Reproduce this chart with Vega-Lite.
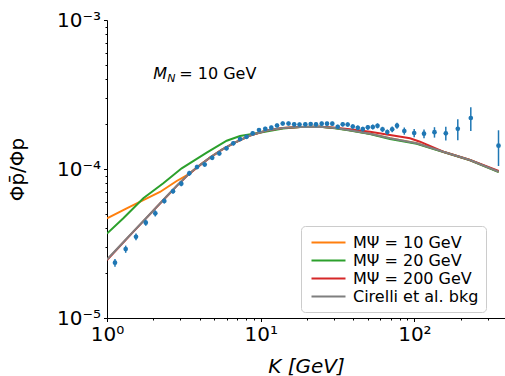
{
  "$schema": "https://vega.github.io/schema/vega-lite/v6.json",
  "autosize": "none",
  "width": 398,
  "height": 298,
  "padding": {"left": 107, "top": 20, "right": 0, "bottom": 58},
  "background": "white",
  "config": {
    "font": "DejaVu Sans",
    "view": {"stroke": null},
    "axis": {
      "grid": false,
      "domainColor": "black",
      "domainWidth": 1,
      "tickColor": "black",
      "tickWidth": 1,
      "labelColor": "black",
      "labelFont": "DejaVu Sans",
      "labelFontSize": 20,
      "labelOverlap": false,
      "labelFlush": false,
      "titleColor": "black",
      "titleFont": "DejaVu Sans",
      "titleFontSize": 20,
      "titleFontWeight": "normal"
    },
    "legend": {"labelFont": "DejaVu Sans", "labelColor": "black"}
  },
  "datasets": {
    "pts": [
      {"x": 1.127, "y": 2.35e-5, "err": 1.38e-6},
      {"x": 1.323, "y": 2.90e-5, "err": 1.61e-6},
      {"x": 1.544, "y": 3.51e-5, "err": 1.83e-6},
      {"x": 1.788, "y": 4.36e-5, "err": 2.07e-6},
      {"x": 2.062, "y": 5.04e-5, "err": 2.39e-6},
      {"x": 2.360, "y": 6.10e-5, "err": 2.40e-6},
      {"x": 2.688, "y": 7.09e-5, "err": 2.79e-6},
      {"x": 3.043, "y": 7.97e-5, "err": 3.14e-6},
      {"x": 3.432, "y": 9.36e-5, "err": 3.69e-6},
      {"x": 3.851, "y": 1.031e-4, "err": 3.6e-6},
      {"x": 4.322, "y": 1.072e-4, "err": 3.7e-6},
      {"x": 4.836, "y": 1.189e-4, "err": 4.0e-6},
      {"x": 5.379, "y": 1.271e-4, "err": 4.0e-6},
      {"x": 5.992, "y": 1.377e-4, "err": 4.3e-6},
      {"x": 6.633, "y": 1.487e-4, "err": 4.7e-6},
      {"x": 7.333, "y": 1.589e-4, "err": 5.0e-6},
      {"x": 8.085, "y": 1.644e-4, "err": 5.2e-6},
      {"x": 8.872, "y": 1.736e-4, "err": 5.4e-6},
      {"x": 9.75, "y": 1.827e-4, "err": 5.7e-6},
      {"x": 10.71, "y": 1.861e-4, "err": 5.8e-6},
      {"x": 11.72, "y": 1.893e-4, "err": 5.9e-6},
      {"x": 12.77, "y": 1.958e-4, "err": 6.1e-6},
      {"x": 13.91, "y": 2.020e-4, "err": 6.3e-6},
      {"x": 15.17, "y": 2.020e-4, "err": 6.3e-6},
      {"x": 16.52, "y": 1.995e-4, "err": 6.3e-6},
      {"x": 17.89, "y": 1.989e-4, "err": 6.2e-6},
      {"x": 19.51, "y": 1.995e-4, "err": 6.3e-6},
      {"x": 21.15, "y": 2.004e-4, "err": 6.3e-6},
      {"x": 22.90, "y": 1.995e-4, "err": 6.3e-6},
      {"x": 24.94, "y": 2.014e-4, "err": 6.3e-6},
      {"x": 27.01, "y": 2.014e-4, "err": 6.3e-6},
      {"x": 29.23, "y": 2.014e-4, "err": 6.3e-6},
      {"x": 31.70, "y": 1.922e-4, "err": 6.0e-6},
      {"x": 34.17, "y": 1.995e-4, "err": 6.3e-6},
      {"x": 36.81, "y": 1.989e-4, "err": 6.5e-6},
      {"x": 39.73, "y": 1.928e-4, "err": 6.5e-6},
      {"x": 42.83, "y": 1.890e-4, "err": 6.6e-6},
      {"x": 46.16, "y": 1.856e-4, "err": 6.8e-6},
      {"x": 49.76, "y": 1.905e-4, "err": 7.0e-6},
      {"x": 53.62, "y": 1.914e-4, "err": 7.2e-6},
      {"x": 57.54, "y": 1.950e-4, "err": 7.5e-6},
      {"x": 62.01, "y": 1.847e-4, "err": 7.3e-6},
      {"x": 66.64, "y": 1.771e-4, "err": 7.0e-6},
      {"x": 71.71, "y": 1.847e-4, "err": 8.0e-6},
      {"x": 77.06, "y": 1.954e-4, "err": 9.3e-6},
      {"x": 85.97, "y": 1.799e-4, "err": 1.0e-5},
      {"x": 99.7, "y": 1.744e-4, "err": 1.11e-5},
      {"x": 115.5, "y": 1.725e-4, "err": 1.19e-5},
      {"x": 135.1, "y": 1.766e-4, "err": 1.42e-5},
      {"x": 160.1, "y": 1.736e-4, "err": 1.83e-5},
      {"x": 191.6, "y": 1.861e-4, "err": 3.0e-5},
      {"x": 232.8, "y": 2.199e-4, "err": 4.0e-5},
      {"x": 352.6, "y": 1.433e-4, "err": 3.86e-5}
    ],
    "lines": [
      {"s": "MΨ = 10 GeV", "x": 1.0, "y": 4.667e-5},
      {"s": "MΨ = 10 GeV", "x": 1.343, "y": 5.446e-5},
      {"s": "MΨ = 10 GeV", "x": 1.723, "y": 6.191e-5},
      {"s": "MΨ = 10 GeV", "x": 2.212, "y": 7.01e-5},
      {"s": "MΨ = 10 GeV", "x": 2.841, "y": 8.31e-5},
      {"s": "MΨ = 10 GeV", "x": 3.432, "y": 9.28e-5},
      {"s": "MΨ = 10 GeV", "x": 4.028, "y": 1.064e-4},
      {"s": "MΨ = 10 GeV", "x": 4.679, "y": 1.194e-4},
      {"s": "MΨ = 10 GeV", "x": 5.600, "y": 1.351e-4},
      {"s": "MΨ = 10 GeV", "x": 6.633, "y": 1.487e-4},
      {"s": "MΨ = 10 GeV", "x": 8.518, "y": 1.678e-4},
      {"s": "MΨ = 10 GeV", "x": 10.94, "y": 1.813e-4},
      {"s": "MΨ = 10 GeV", "x": 13.97, "y": 1.884e-4},
      {"s": "MΨ = 10 GeV", "x": 18.02, "y": 1.914e-4},
      {"s": "MΨ = 10 GeV", "x": 24.31, "y": 1.919e-4},
      {"s": "MΨ = 10 GeV", "x": 30.43, "y": 1.884e-4},
      {"s": "MΨ = 10 GeV", "x": 38.11, "y": 1.819e-4},
      {"s": "MΨ = 10 GeV", "x": 51.42, "y": 1.722e-4},
      {"s": "MΨ = 10 GeV", "x": 69.38, "y": 1.607e-4},
      {"s": "MΨ = 10 GeV", "x": 103.5, "y": 1.487e-4},
      {"s": "MΨ = 10 GeV", "x": 154.2, "y": 1.306e-4},
      {"s": "MΨ = 10 GeV", "x": 230.0, "y": 1.149e-4},
      {"s": "MΨ = 10 GeV", "x": 353.6, "y": 9.59e-5},
      {"s": "MΨ = 20 GeV", "x": 1.0, "y": 3.69e-5},
      {"s": "MΨ = 20 GeV", "x": 1.277, "y": 4.667e-5},
      {"s": "MΨ = 20 GeV", "x": 1.723, "y": 6.357e-5},
      {"s": "MΨ = 20 GeV", "x": 2.324, "y": 8.02e-5},
      {"s": "MΨ = 20 GeV", "x": 3.062, "y": 1.011e-4},
      {"s": "MΨ = 20 GeV", "x": 4.454, "y": 1.286e-4},
      {"s": "MΨ = 20 GeV", "x": 6.010, "y": 1.548e-4},
      {"s": "MΨ = 20 GeV", "x": 7.333, "y": 1.665e-4},
      {"s": "MΨ = 20 GeV", "x": 9.419, "y": 1.736e-4},
      {"s": "MΨ = 20 GeV", "x": 13.97, "y": 1.870e-4},
      {"s": "MΨ = 20 GeV", "x": 18.02, "y": 1.914e-4},
      {"s": "MΨ = 20 GeV", "x": 24.31, "y": 1.919e-4},
      {"s": "MΨ = 20 GeV", "x": 30.43, "y": 1.876e-4},
      {"s": "MΨ = 20 GeV", "x": 38.11, "y": 1.813e-4},
      {"s": "MΨ = 20 GeV", "x": 51.42, "y": 1.717e-4},
      {"s": "MΨ = 20 GeV", "x": 69.38, "y": 1.589e-4},
      {"s": "MΨ = 20 GeV", "x": 103.5, "y": 1.476e-4},
      {"s": "MΨ = 20 GeV", "x": 154.2, "y": 1.300e-4},
      {"s": "MΨ = 20 GeV", "x": 230.0, "y": 1.144e-4},
      {"s": "MΨ = 20 GeV", "x": 353.6, "y": 9.55e-5},
      {"s": "MΨ = 200 GeV", "x": 1.0, "y": 2.45e-5},
      {"s": "MΨ = 200 GeV", "x": 1.215, "y": 3.04e-5},
      {"s": "MΨ = 200 GeV", "x": 1.476, "y": 3.77e-5},
      {"s": "MΨ = 200 GeV", "x": 1.794, "y": 4.66e-5},
      {"s": "MΨ = 200 GeV", "x": 2.084, "y": 5.49e-5},
      {"s": "MΨ = 200 GeV", "x": 2.446, "y": 6.54e-5},
      {"s": "MΨ = 200 GeV", "x": 2.897, "y": 7.85e-5},
      {"s": "MΨ = 200 GeV", "x": 3.432, "y": 9.31e-5},
      {"s": "MΨ = 200 GeV", "x": 4.028, "y": 1.062e-4},
      {"s": "MΨ = 200 GeV", "x": 4.679, "y": 1.192e-4},
      {"s": "MΨ = 200 GeV", "x": 5.600, "y": 1.349e-4},
      {"s": "MΨ = 200 GeV", "x": 6.633, "y": 1.485e-4},
      {"s": "MΨ = 200 GeV", "x": 8.518, "y": 1.676e-4},
      {"s": "MΨ = 200 GeV", "x": 10.94, "y": 1.811e-4},
      {"s": "MΨ = 200 GeV", "x": 13.97, "y": 1.884e-4},
      {"s": "MΨ = 200 GeV", "x": 18.02, "y": 1.914e-4},
      {"s": "MΨ = 200 GeV", "x": 24.31, "y": 1.919e-4},
      {"s": "MΨ = 200 GeV", "x": 30.43, "y": 1.895e-4},
      {"s": "MΨ = 200 GeV", "x": 38.11, "y": 1.847e-4},
      {"s": "MΨ = 200 GeV", "x": 51.42, "y": 1.779e-4},
      {"s": "MΨ = 200 GeV", "x": 69.38, "y": 1.691e-4},
      {"s": "MΨ = 200 GeV", "x": 93.62, "y": 1.607e-4},
      {"s": "MΨ = 200 GeV", "x": 108.7, "y": 1.525e-4},
      {"s": "MΨ = 200 GeV", "x": 154.2, "y": 1.306e-4},
      {"s": "MΨ = 200 GeV", "x": 230.0, "y": 1.149e-4},
      {"s": "MΨ = 200 GeV", "x": 353.6, "y": 9.69e-5},
      {"s": "Cirelli et al. bkg", "x": 1.0, "y": 2.47e-5},
      {"s": "Cirelli et al. bkg", "x": 1.215, "y": 3.055e-5},
      {"s": "Cirelli et al. bkg", "x": 1.476, "y": 3.784e-5},
      {"s": "Cirelli et al. bkg", "x": 1.794, "y": 4.675e-5},
      {"s": "Cirelli et al. bkg", "x": 2.084, "y": 5.506e-5},
      {"s": "Cirelli et al. bkg", "x": 2.446, "y": 6.558e-5},
      {"s": "Cirelli et al. bkg", "x": 2.897, "y": 7.87e-5},
      {"s": "Cirelli et al. bkg", "x": 3.432, "y": 9.33e-5},
      {"s": "Cirelli et al. bkg", "x": 4.028, "y": 1.064e-4},
      {"s": "Cirelli et al. bkg", "x": 4.679, "y": 1.194e-4},
      {"s": "Cirelli et al. bkg", "x": 5.600, "y": 1.351e-4},
      {"s": "Cirelli et al. bkg", "x": 6.633, "y": 1.487e-4},
      {"s": "Cirelli et al. bkg", "x": 8.518, "y": 1.678e-4},
      {"s": "Cirelli et al. bkg", "x": 10.94, "y": 1.813e-4},
      {"s": "Cirelli et al. bkg", "x": 13.97, "y": 1.884e-4},
      {"s": "Cirelli et al. bkg", "x": 18.02, "y": 1.914e-4},
      {"s": "Cirelli et al. bkg", "x": 24.31, "y": 1.919e-4},
      {"s": "Cirelli et al. bkg", "x": 30.43, "y": 1.884e-4},
      {"s": "Cirelli et al. bkg", "x": 38.11, "y": 1.819e-4},
      {"s": "Cirelli et al. bkg", "x": 51.42, "y": 1.722e-4},
      {"s": "Cirelli et al. bkg", "x": 69.38, "y": 1.607e-4},
      {"s": "Cirelli et al. bkg", "x": 103.5, "y": 1.487e-4},
      {"s": "Cirelli et al. bkg", "x": 154.2, "y": 1.306e-4},
      {"s": "Cirelli et al. bkg", "x": 230.0, "y": 1.149e-4},
      {"s": "Cirelli et al. bkg", "x": 353.6, "y": 9.59e-5}
    ]
  },
  "encoding": {
    "x": {
      "field": "x", "type": "quantitative",
      "scale": {"type": "log", "domain": [1, 388.6], "nice": false, "zero": false},
      "axis": {
        "title": "K [GeV]",
        "titleFontStyle": "italic",
        "titleY": 48,
        "titleBaseline": "middle",
        "values": [1, 2, 3, 4, 5, 6, 7, 8, 9, 10, 20, 30, 40, 50, 60, 70, 80, 90, 100, 200, 300],
        "labelExpr": "datum.value == 1 ? '10⁰' : datum.value == 10 ? '10¹' : datum.value == 100 ? '10²' : ''",
        "tickSize": {"condition": {"test": "indexof([1, 10, 100], datum.value) >= 0", "value": 3.5}, "value": 2},
        "labelPadding": 3
      }
    },
    "y": {
      "field": "y", "type": "quantitative",
      "scale": {"type": "log", "domain": [0.00001, 0.001], "nice": false, "zero": false},
      "axis": {
        "title": "Φp̄/Φp",
        "titleX": -90,
        "titleY": 149,
        "titleAngle": -90,
        "titleAlign": "center",
        "titleBaseline": "middle",
        "values": [0.00001, 0.00002, 0.00003, 0.00004, 0.00005, 0.00006, 0.00007, 0.00008, 0.00009, 0.0001, 0.0002, 0.0003, 0.0004, 0.0005, 0.0006, 0.0007, 0.0008, 0.0009, 0.001],
        "labelExpr": "datum.value == 0.001 ? '10⁻³' : datum.value == 0.0001 ? '10⁻⁴' : datum.value == 0.00001 ? '10⁻⁵' : ''",
        "tickSize": {"condition": {"test": "datum.value == 0.001 || datum.value == 0.0001 || datum.value == 0.00001", "value": 3.5}, "value": 2},
        "labelPadding": 3
      }
    }
  },
  "layer": [
    {
      "data": {"name": "lines"},
      "transform": [{"filter": "datum.s == 'MΨ = 10 GeV'"}],
      "mark": {"type": "line", "strokeWidth": 2, "clip": true},
      "encoding": {
        "color": {
          "field": "s", "type": "nominal",
          "scale": {"domain": ["MΨ = 10 GeV", "MΨ = 20 GeV", "MΨ = 200 GeV", "Cirelli et al. bkg"], "range": ["#ff7f0e", "#2ca02c", "#d62728", "#7f7f7f"]},
          "legend": {
            "title": null, "orient": "none", "legendX": 194, "legendY": 206,
            "symbolType": "M-2,0H2", "symbolSize": 289, "symbolStrokeWidth": 2,
            "symbolOffset": 11, "labelOffset": 15,
            "labelFontSize": 16, "fillColor": "white", "strokeColor": "#cccccc",
            "cornerRadius": 4, "padding": 7, "rowPadding": 0
          }
        }
      }
    },
    {
      "data": {"name": "lines"},
      "transform": [{"filter": "datum.s == 'MΨ = 20 GeV'"}],
      "mark": {"type": "line", "strokeWidth": 2, "clip": true},
      "encoding": {"color": {"field": "s", "type": "nominal"}}
    },
    {
      "data": {"name": "lines"},
      "transform": [{"filter": "datum.s == 'MΨ = 200 GeV'"}],
      "mark": {"type": "line", "strokeWidth": 2, "clip": true},
      "encoding": {"color": {"field": "s", "type": "nominal"}}
    },
    {
      "data": {"name": "lines"},
      "transform": [{"filter": "datum.s == 'Cirelli et al. bkg'"}],
      "mark": {"type": "line", "strokeWidth": 2, "clip": true},
      "encoding": {"color": {"field": "s", "type": "nominal"}}
    },
    {
      "data": {"name": "pts"},
      "mark": {"type": "errorbar", "ticks": false, "color": "#1f77b4", "thickness": 1.5},
      "encoding": {"yError": {"field": "err"}}
    },
    {
      "data": {"name": "pts"},
      "mark": {"type": "circle", "color": "#1f77b4", "size": 22, "opacity": 1}
    },
    {
      "data": {"values": [{}]},
      "mark": {"type": "rule", "color": "black", "strokeWidth": 1},
      "encoding": {"x": {"datum": 1}, "x2": {"datum": 388.6}, "y": {"datum": 0.001}}
    },
    {
      "data": {"values": [{"x": 2, "y": 0.0004}]},
      "mark": {"type": "text", "text": "M", "fontStyle": "italic", "fontSize": 16, "align": "left", "baseline": "alphabetic", "color": "black"}
    },
    {
      "data": {"values": [{"x": 2, "y": 0.0004}]},
      "mark": {"type": "text", "text": "N", "fontStyle": "italic", "fontSize": 11, "align": "left", "baseline": "alphabetic", "dx": 14, "dy": 3, "color": "black"}
    },
    {
      "data": {"values": [{"x": 2, "y": 0.0004}]},
      "mark": {"type": "text", "text": "= 10 GeV", "fontSize": 16, "align": "left", "baseline": "alphabetic", "dx": 26, "color": "black"}
    }
  ]
}
